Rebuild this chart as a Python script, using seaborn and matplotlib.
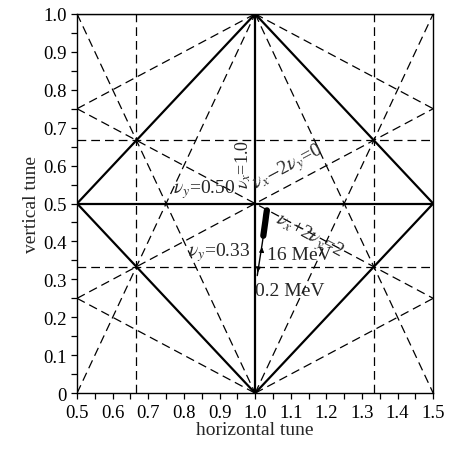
import pandas as pd
import matplotlib
matplotlib.use("Agg")
import matplotlib.pyplot as plt
import seaborn as sns

# integer / half-integer resonance lines (solid), as segment end points
solid_names = ["nx=1", "ny=0.5", "ny=1", "nx+ny=1", "nx-ny=0", "nx+ny=2", "nx-ny=1"]
solid_x = [[1.0, 1.0], [0.5, 1.5], [0.5, 1.5], [0.5, 1.0], [0.5, 1.0], [1.0, 1.5], [1.0, 1.5]]
solid_y = [[0.0, 1.0], [0.5, 0.5], [1.0, 1.0], [0.5, 0.0], [0.5, 1.0], [1.0, 0.5], [0.0, 0.5]]

# third order resonance lines (dashed)
dash_names = ["3nx=2", "3nx=4", "3ny=1", "3ny=2",
              "2nx+ny=2", "2nx-ny=1", "2nx+ny=3", "2nx-ny=2",
              "nx+2ny=1", "nx+2ny=2", "nx+2ny=3", "nx-2ny=-1", "nx-2ny=0", "nx-2ny=1"]
dash_x = [[2/3, 2/3], [4/3, 4/3], [0.5, 1.5], [0.5, 1.5],
          [0.5, 1.0], [0.5, 1.0], [1.0, 1.5], [1.0, 1.5],
          [0.5, 1.0], [0.5, 1.5], [1.0, 1.5], [0.5, 1.0], [0.5, 1.5], [1.0, 1.5]]
dash_y = [[0.0, 1.0], [0.0, 1.0], [1/3, 1/3], [2/3, 2/3],
          [1.0, 0.0], [0.0, 1.0], [1.0, 0.0], [0.0, 1.0],
          [0.25, 0.0], [0.75, 0.25], [1.0, 0.75], [0.75, 1.0], [0.25, 0.75], [0.0, 0.25]]

# measured working point track (0.2 MeV -> 16 MeV -> top)
track_x = [1.006, 1.010, 1.015, 1.020, 1.023]
track_y = [0.310, 0.335, 0.365, 0.395, 0.415]
blob_x = [1.023, 1.026, 1.029, 1.031, 1.033]
blob_y = [0.415, 0.435, 0.455, 0.470, 0.482]

xticks = [0.5, 0.6, 0.7, 0.8, 0.9, 1.0, 1.1, 1.2, 1.3, 1.4, 1.5]
yticks = [0, 0.1, 0.2, 0.3, 0.4, 0.5, 0.6, 0.7, 0.8, 0.9, 1.0]
ytick_labels = ["0", "0.1", "0.2", "0.3", "0.4", "0.5", "0.6", "0.7", "0.8", "0.9", "1.0"]


def to_frame(names, xs, ys):
    rows = []
    for n, xx, yy in zip(names, xs, ys):
        for a, b in zip(xx, yy):
            rows.append({"line": n, "x": a, "y": b})
    return pd.DataFrame(rows)


sns.set_style("ticks")
plt.rcParams["font.family"] = ["Liberation Serif", "DejaVu Serif"]
plt.rcParams["mathtext.fontset"] = "stix"

fig = plt.figure(figsize=(4.56, 4.52), dpi=100)
ax = fig.add_axes([0.169, 0.128, 0.781, 0.839])

sns.lineplot(data=to_frame(dash_names, dash_x, dash_y), x="x", y="y", units="line",
             estimator=None, sort=False, color="black", lw=0.9,
             linestyle=(0, (7, 4)), ax=ax, legend=False)
sns.lineplot(data=to_frame(solid_names, solid_x, solid_y), x="x", y="y", units="line",
             estimator=None, sort=False, color="black", lw=1.6, ax=ax, legend=False)

ax.plot(track_x, track_y, color="black", lw=1.0)
ax.plot(blob_x, blob_y, color="black", lw=4.5, solid_capstyle="round")
ax.annotate("", xy=(1.020, 0.392), xytext=(1.018, 0.370),
            arrowprops=dict(arrowstyle="-|>", color="black", lw=0.8, mutation_scale=7))
ax.annotate("", xy=(1.006, 0.312), xytext=(1.009, 0.330),
            arrowprops=dict(arrowstyle="-|>", color="black", lw=0.8, mutation_scale=7))

fs = 14
ax.text(0.968, 0.605, r"$\nu_x$=1.0", rotation=90, ha="center", va="center", fontsize=13)
ax.text(0.768, 0.508, r"$\nu_y$=0.50", ha="left", va="bottom", fontsize=fs)
ax.text(1.012, 0.522, r"$\nu_x$$-$2$\nu_y$=0", rotation=28, ha="left", va="bottom",
        fontsize=fs, rotation_mode="anchor")
ax.text(1.075, 0.49, r"$\nu_x$+2$\nu_y$=2", rotation=-28, ha="left", va="top",
        fontsize=fs, rotation_mode="anchor")
ax.text(0.812, 0.342, r"$\nu_y$=0.33", ha="left", va="bottom", fontsize=fs)
ax.text(1.033, 0.342, "16 MeV", ha="left", va="bottom", fontsize=fs)
ax.text(1.0, 0.248, "0.2 MeV", ha="left", va="bottom", fontsize=fs)

ax.set_xlim(0.5, 1.5)
ax.set_ylim(0, 1.0)
ax.set_xticks(xticks)
ax.set_xticklabels([f"{v:.1f}" for v in xticks])
ax.set_yticks(yticks)
ax.set_yticklabels(ytick_labels)
ax.set_xticks([v + 0.05 for v in xticks[:-1]], minor=True)
ax.set_yticks([v + 0.05 for v in yticks[:-1]], minor=True)
ax.tick_params(which="both", direction="out", length=4, width=0.9, labelsize=13.5,
               colors="black")
ax.tick_params(axis="x", pad=4)
ax.set_xlabel("horizontal tune", fontsize=14, labelpad=0)
ax.set_ylabel("vertical tune", fontsize=14, labelpad=2)
for s in ax.spines.values():
    s.set_linewidth(1.0)
    s.set_color("black")

fig.savefig("out.png", dpi=100)
